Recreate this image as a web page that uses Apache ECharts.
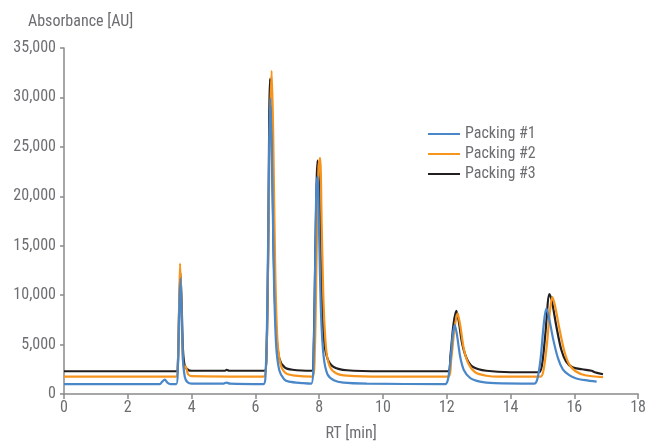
<!DOCTYPE html>
<html><head><meta charset="utf-8">
<script src="https://cdn.jsdelivr.net/npm/echarts@6/dist/echarts.min.js"></script>
<style>html,body{margin:0;padding:0;background:#fff}#c{width:649px;height:447px}</style>
</head><body><div id="c"></div>
<script>
const seriesNames = ['Packing #1', 'Packing #2', 'Packing #3'];
const xTicks = [0, 2, 4, 6, 8, 10, 12, 14, 16, 18];
const yTicks = [0, 5000, 10000, 15000, 20000, 25000, 30000, 35000];
const packing1 = [
[0,1000],[3.0,1000],[3.08,1250],[3.16,1450],[3.24,1150],[3.34,1000],[3.52,1000],[3.57,2600],[3.61,8000],[3.65,11700],[3.69,8000],[3.73,3500],[3.79,1700],[3.87,1200],[4.0,1050],[5.0,1050],[5.1,1150],[5.2,1050],[6.25,1000],
[6.32,2000],[6.38,10000],[6.43,24000],[6.47,29900],[6.52,24000],[6.58,12000],[6.65,5000],[6.75,2400],[6.9,1500],[7.05,1250],[7.5,1100],[7.75,1050],
[7.82,3000],[7.87,12000],[7.91,20500],[7.95,22000],[8.0,16000],[8.06,8000],[8.14,3800],[8.26,2000],[8.46,1400],[8.76,1150],[9.5,1050],[11.95,1000],
[12.04,1500],[12.12,3500],[12.19,6000],[12.25,7000],[12.32,6000],[12.42,3800],[12.54,2400],[12.74,1600],[13.04,1250],[13.5,1100],[14.74,1050],
[14.84,1500],[14.94,3500],[15.04,7000],[15.12,8650],[15.19,8000],[15.34,5500],[15.49,3600],[15.64,2500],[15.84,1900],[16.04,1600],[16.34,1400],[16.7,1250]
];
const packing2 = [
[0,1750],[3.51,1750],[3.57,3000],[3.61,9000],[3.64,13200],[3.68,9000],[3.72,4000],[3.76,2600],[3.81,2800],[3.89,2000],[4.0,1800],[6.25,1750],
[6.33,2500],[6.39,11000],[6.45,26000],[6.51,32700],[6.56,26000],[6.62,13000],[6.69,5500],[6.79,3000],[6.95,2100],[7.25,1850],[7.78,1750],
[7.86,4000],[7.92,14000],[7.98,23000],[8.03,23900],[8.08,17000],[8.14,9000],[8.22,4500],[8.33,2800],[8.53,2100],[8.88,1850],[10,1750],[12.04,1750],
[12.14,3500],[12.24,6500],[12.34,8150],[12.42,7000],[12.54,4500],[12.69,3000],[12.89,2200],[13.24,1850],[13.64,1750],[14.94,1750],
[15.04,2500],[15.14,5000],[15.24,8500],[15.31,9800],[15.39,9000],[15.54,6500],[15.69,4300],[15.84,3000],[16.04,2300],[16.34,1900],[16.9,1700]
];
const packing3 = [
[0,2300],[3.53,2300],[3.57,3000],[3.61,8500],[3.65,12300],[3.69,9000],[3.73,4500],[3.79,2800],[3.91,2400],[4.0,2350],[5.05,2350],[5.1,2450],[5.18,2350],[6.29,2350],
[6.35,4000],[6.4,14000],[6.46,31900],[6.51,28000],[6.57,15000],[6.65,6500],[6.75,3600],[6.92,2700],[7.17,2450],[7.77,2350],
[7.83,5000],[7.89,16000],[7.95,23600],[8.01,20000],[8.07,11000],[8.15,5500],[8.27,3500],[8.47,2700],[8.87,2400],[10,2300],[12.04,2300],
[12.12,4000],[12.21,7000],[12.3,8400],[12.37,7500],[12.49,5000],[12.64,3500],[12.84,2700],[13.24,2350],[14.0,2200],[14.89,2200],
[14.99,3000],[15.09,6000],[15.22,10100],[15.29,9500],[15.44,6800],[15.59,4500],[15.74,3300],[15.94,2700],[16.24,2500],[16.54,2350],[16.64,2200],[16.9,2000]
];
const colors = ['#4a87c9', '#f7941d', '#231f20'];
const FONT = "'Roboto Condensed', Roboto, sans-serif";
const gray = '#6d6e71';
const chart = echarts.init(document.getElementById('c'));
const dataSets = [packing1, packing2, packing3];
const order = [2, 1, 0];
chart.setOption({
  animation: false,
  grid: {left: 64, right: 9, top: 48, bottom: 53},
  legend: {
    data: seriesNames, orient: 'vertical', left: 423, top: 121,
    itemWidth: 32, itemHeight: 2, itemGap: 4, icon: 'rect',
    textStyle: {fontFamily: FONT, fontSize: 16, color: gray, lineHeight: 16}
  },
  xAxis: {
    type: 'value', min: xTicks[0], max: xTicks[xTicks.length-1], interval: 2,
    name: 'RT [min]', nameLocation: 'middle', nameGap: 32,
    nameTextStyle: {fontFamily: FONT, fontSize: 16, color: gray},
    axisLine: {lineStyle: {color: '#8a8a8a', width: 1.5}},
    axisTick: {length: 5, lineStyle: {color: '#8a8a8a', width: 1.5}},
    axisLabel: {fontFamily: FONT, fontSize: 16, color: gray, margin: 6},
    splitLine: {show: false}
  },
  yAxis: {
    type: 'value', min: yTicks[0], max: yTicks[yTicks.length-1], interval: 5000,
    name: 'Absorbance [AU]', nameLocation: 'end', nameGap: 18,
    nameTextStyle: {fontFamily: FONT, fontSize: 16, color: gray, align: 'left', padding: [0,0,0,-36]},
    axisLine: {show: true, lineStyle: {color: '#8a8a8a', width: 1.5}},
    axisTick: {show: true, length: 4, lineStyle: {color: '#8a8a8a', width: 1.5}},
    axisLabel: {fontFamily: FONT, fontSize: 16, color: gray, margin: 8,
      formatter: v => v.toLocaleString('en-US')},
    splitLine: {show: false}
  },
  series: order.map(i => ({
    name: seriesNames[i], type: 'line', data: dataSets[i], showSymbol: false, symbol: 'none',
    smooth: 0.3, color: colors[i], lineStyle: {width: 2.2, color: colors[i]}
  }))
});
</script></body></html>
